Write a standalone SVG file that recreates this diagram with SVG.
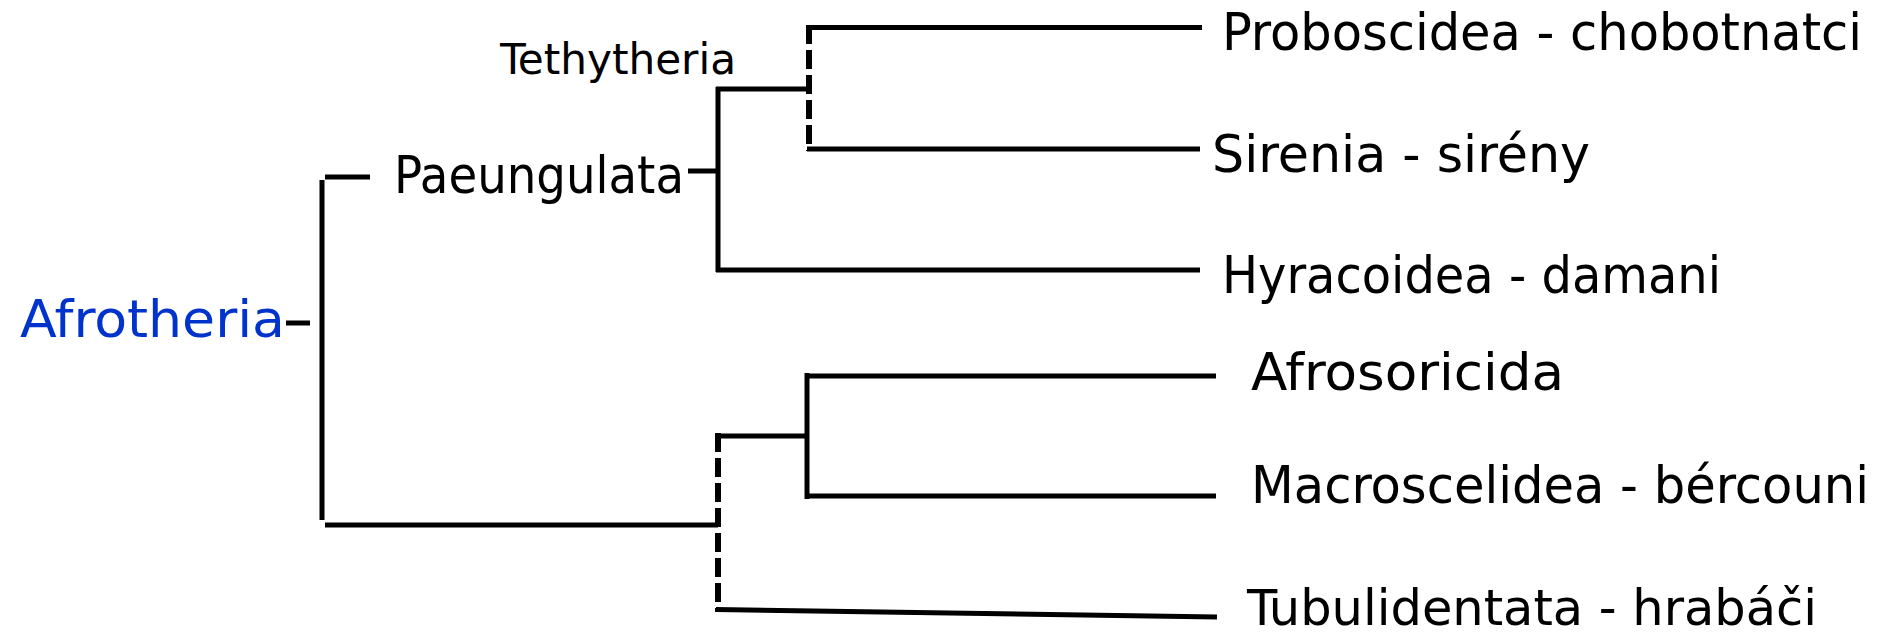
<svg xmlns="http://www.w3.org/2000/svg" width="1886" height="638" viewBox="0 0 1886 638">
<style>
.ln{fill:none;stroke:#000;stroke-width:5;stroke-linecap:butt}
.ds{fill:none;stroke:#000;stroke-width:6;stroke-dasharray:19 6}
.lb{font-family:"DejaVu Sans Condensed","DejaVu Sans","Noto Sans",sans-serif;font-size:52px;fill:#000}
.sm{font-size:42px}
.bl{fill:#0033CC}
</style>
<rect width="1886" height="638" fill="#fff"/>
<g id="connectors">
<path class="ln" d="M286,323H310"/>
<path class="ln" d="M322,180V520"/>
<path class="ln" d="M325,177H370"/>
<path class="ln" d="M325,525H718"/>
<path class="ln" d="M688,171H718"/>
<path class="ln" d="M718,87V272"/>
<path class="ln" d="M716,89H809"/>
<path class="ds" d="M809,25V151"/>
<path class="ln" d="M807,27.5H1202"/>
<path class="ln" d="M807,149H1200"/>
<path class="ln" d="M716,270H1200"/>
<path class="ds" d="M718,433V612"/>
<path class="ln" d="M718,436H807"/>
<path class="ln" d="M807,373V499"/>
<path class="ln" d="M805,376H1216"/>
<path class="ln" d="M805,496H1216"/>
<path class="ln" d="M716,609.5L1217,617"/>
</g>
<g id="afrotheria"><text class="lb bl" x="20" y="337" textLength="265" lengthAdjust="spacingAndGlyphs">Afrotheria</text></g>
<g id="paeungulata"><text class="lb" x="394" y="193" textLength="290" lengthAdjust="spacingAndGlyphs">Paeungulata</text></g>
<g id="tethytheria"><text class="lb sm" x="500" y="74" textLength="236" lengthAdjust="spacingAndGlyphs">Tethytheria</text></g>
<g id="proboscidea"><text class="lb" x="1222" y="50" textLength="640" lengthAdjust="spacingAndGlyphs">Proboscidea - chobotnatci</text></g>
<g id="sirenia"><text class="lb" x="1212" y="172" textLength="378" lengthAdjust="spacingAndGlyphs">Sirenia - sirény</text></g>
<g id="hyracoidea"><text class="lb" x="1222" y="293" textLength="499" lengthAdjust="spacingAndGlyphs">Hyracoidea - damani</text></g>
<g id="afrosoricida"><text class="lb" x="1251" y="390" textLength="313" lengthAdjust="spacingAndGlyphs">Afrosoricida</text></g>
<g id="macroscelidea"><text class="lb" x="1251" y="503" textLength="618" lengthAdjust="spacingAndGlyphs">Macroscelidea - bércouni</text></g>
<g id="tubulidentata"><text class="lb" x="1247" y="625" font-size="50" style="font-size:50px" textLength="570" lengthAdjust="spacingAndGlyphs">Tubulidentata - hrabáči</text></g>
</svg>
